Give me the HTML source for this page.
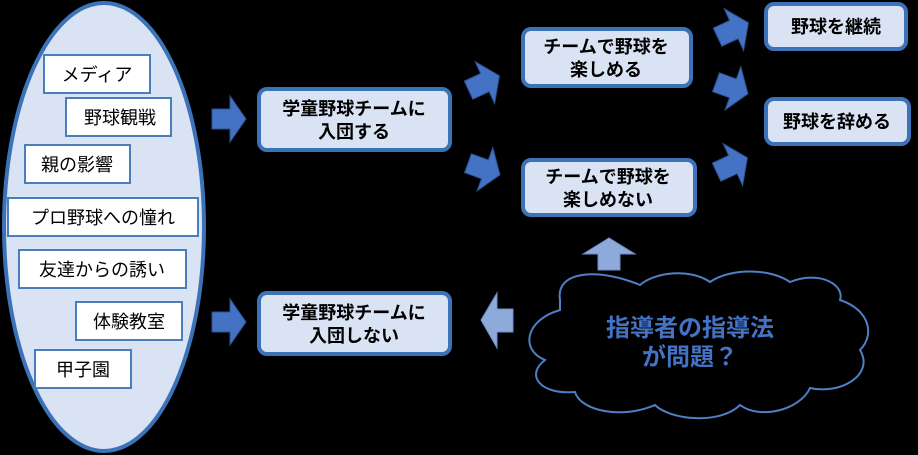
<!DOCTYPE html>
<html><head><meta charset="utf-8"><style>
html,body{margin:0;padding:0;background:#000;}
svg{display:block;}
text{font-family:"Liberation Sans","Noto Sans CJK JP",sans-serif;}
.b{font-weight:bold;font-size:18px;fill:#000;}
.n{font-size:18px;fill:#000;}
</style></head><body>
<svg width="918" height="455" viewBox="0 0 918 455" xmlns="http://www.w3.org/2000/svg">
<rect width="918" height="455" fill="#000"/>
<defs>
<polygon id="ar" points="-17,-10 1,-10 1,-23 17,0 1,23 1,10 -17,10" fill="#4472c4" stroke="#2f528f" stroke-width="1"/>
</defs>
<ellipse cx="104" cy="227" rx="100" ry="224" fill="#dae3f3" stroke="#3b72b8" stroke-width="4"/>
<g fill="#fff" stroke="#4a7ebb" stroke-width="2">
<rect x="44" y="55" width="106" height="38"/>
<rect x="66" y="98" width="105" height="38"/>
<rect x="25" y="145" width="105" height="38"/>
<rect x="8" y="198" width="190" height="38"/>
<rect x="19" y="250" width="167" height="38"/>
<rect x="76" y="302" width="106" height="38"/>
<rect x="35" y="350" width="96" height="38"/>
</g>
<g text-anchor="middle">
<text x="97" y="81" class="n">メディア</text>
<text x="120" y="124" class="n">野球観戦</text>
<text x="77" y="171" class="n">親の影響</text>
<text x="103" y="224" class="n">プロ野球への憧れ</text>
<text x="102" y="276" class="n">友達からの誘い</text>
<text x="129" y="328" class="n">体験教室</text>
<text x="83" y="376" class="n">甲子園</text>
</g>
<g fill="#dae3f3" stroke="#3b72b8" stroke-width="4">
<rect x="259" y="89" width="191" height="61" rx="8"/>
<rect x="259" y="293" width="191" height="61" rx="8"/>
<rect x="523" y="29" width="168" height="57" rx="8"/>
<rect x="523" y="160" width="172" height="55" rx="8"/>
<rect x="766" y="4" width="140" height="45" rx="8"/>
<rect x="766" y="99" width="143" height="45" rx="8"/>
</g>
<g text-anchor="middle">
<text x="354" y="115" class="b">学童野球チームに</text>
<text x="354" y="138" class="b">入団する</text>
<text x="354" y="319" class="b">学童野球チームに</text>
<text x="354" y="342" class="b">入団しない</text>
<text x="606" y="53" class="b">チームで野球を</text>
<text x="606" y="76" class="b">楽しめる</text>
<text x="608" y="183" class="b">チームで野球を</text>
<text x="608" y="206" class="b">楽しめない</text>
<text x="836" y="33" class="b">野球を継続</text>
<text x="837" y="128" class="b">野球を辞める</text>
</g>
<use href="#ar" transform="translate(229,119)"/>
<use href="#ar" transform="translate(229,322)"/>
<use href="#ar" transform="translate(484,83) rotate(-25)"/>
<use href="#ar" transform="translate(484,169) rotate(20)"/>
<use href="#ar" transform="translate(733,30) rotate(-25)"/>
<use href="#ar" transform="translate(732,88) rotate(20)"/>
<use href="#ar" transform="translate(732,165) rotate(-25)"/>
<polygon points="583,254 609,238 635,254 620,254 620,270 598,270 598,254" fill="#8eaadb" stroke="#6f8fc8"/>
<polygon points="481,320 497,293 497,309 513,309 513,332 497,332 497,348" fill="#8eaadb" stroke="#6f8fc8"/>
<path d="M560,300 C555,270 600,268 640,285 C655,272 690,268 710,282 C730,268 770,268 790,282 C820,270 845,285 840,300 C870,310 875,335 860,350 C875,375 840,395 810,388 C800,410 760,420 740,405 C720,425 670,420 655,405 C620,420 580,410 575,392 C540,395 525,375 545,360 C520,350 525,320 560,310 Z" fill="#000" stroke="#4f7fc4" stroke-width="2"/>
<text x="690" y="336" text-anchor="middle" font-size="24" fill="#4472c4" font-weight="bold">指導者の指導法</text>
<text x="690" y="365" text-anchor="middle" font-size="24" fill="#4472c4" font-weight="bold">が問題？</text>
</svg>
</body></html>
